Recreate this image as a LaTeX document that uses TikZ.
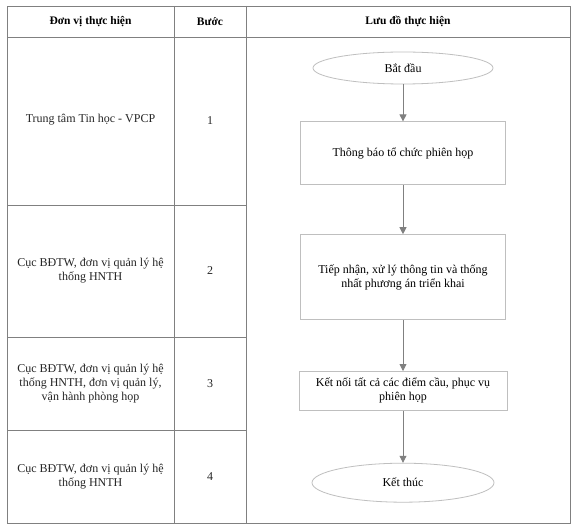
\documentclass[tikz,border=0pt]{standalone}
\usepackage{fontspec}
\setmainfont{Liberation Serif}
\usetikzlibrary{shapes.geometric,arrows.meta,positioning}

\begin{document}
\begin{tikzpicture}[
  x=1pt,y=-1pt,
  font=\fontsize{12}{14}\selectfont,
  node distance=37pt,
  grid/.style={draw=black!50,line width=0.8pt},
  head/.style={font=\fontsize{11.5}{14}\selectfont\bfseries,align=center},
  cell/.style={align=center,text=black!85},
  term/.style={ellipse,draw=black!25,thick,align=center,
               minimum width=180pt,minimum height=32pt},
  proc/.style={rectangle,draw=black!25,thick,align=center,
               minimum width=205pt},
  arr/.style={-{Triangle[length=7pt,width=7pt]},draw=black!50,fill=black!50,thick}
]
\useasboundingbox[fill=white] (0,0) rectangle (576,532);
% table frame
\draw[grid] (7,6) rectangle (570,523);
\draw[grid] (7,37) -- (570,37);
\draw[grid] (174,6) -- (174,523);
\draw[grid] (246,6) -- (246,523);
\foreach \y in {205,337,430}{
  \draw[grid] (7,\y) -- (246,\y);
}
% header row
\node[head] (hdunit) at (90.5,21.5) {Đơn vị thực hiện};
\node[head] (hdstep) at (210,21.5) {Bước};
\node[head] (hdflow) at (408,21.5) {Lưu đồ thực hiện};
% units and steps
\node[cell] (unit1) at (90.5,120) {Trung tâm Tin học - VPCP};
\node[cell] (step1) at (210,121) {1};
\node[cell] (unit2) at (90.5,271) {Cục BĐTW, đơn vị quản lý hệ\\thống HNTH};
\node[cell] (step2) at (210,271) {2};
\node[cell] (unit3) at (90.5,383.5) {Cục BĐTW, đơn vị quản lý hệ\\thống HNTH, đơn vị quản lý,\\vận hành phòng họp};
\node[cell] (step3) at (210,383.5) {3};
\node[cell] (unit4) at (90.5,476.5) {Cục BĐTW, đơn vị quản lý hệ\\thống HNTH};
\node[cell] (step4) at (210,476.5) {4};
% flow chart
\node[term] (start) at (403,68) {Bắt đầu};
\node[proc,minimum height=63pt,below=37pt of start] (notify) {Thông báo tổ chức phiên họp};
\node[proc,minimum height=85pt,below=49pt of notify] (plan) {Tiếp nhận, xử lý thông tin và thống\\nhất phương án triển khai};
\node[proc,minimum height=39pt,minimum width=208pt,below=51pt of plan] (connect) {Kết nối tất cả các điểm cầu, phục vụ\\phiên họp};
\node[term,minimum width=182pt,minimum height=39pt,below=52pt of connect] (finish) {Kết thúc};
\draw[arr] (start)--(notify);
\draw[arr] (notify)--(plan);
\draw[arr] (plan)--(connect);
\draw[arr] (connect)--(finish);
\end{tikzpicture}
\end{document}
